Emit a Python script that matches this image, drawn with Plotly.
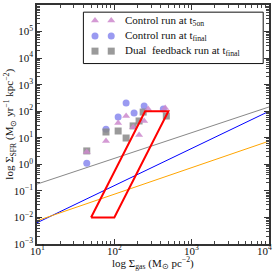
import numpy as np
import plotly.graph_objects as go

# Data
ctrl_on_gas = [44, 78, 112, 142, 175, 209, 243, 274, 455]
ctrl_on_sfr = [2.9, 7.6, 36, 66, 25, 12.7, 43, 120, 132]

ctrl_fin_gas = [44, 78, 112, 142, 180, 243, 430]
ctrl_fin_sfr = [1.1, 21, 60, 204, 85, 157, 120]

dual_fin_gas = [44, 78, 112, 142, 175, 209, 236, 470]
dual_fin_sfr = [3.2, 16.5, 18, 9.8, 28, 43, 93, 66]

box_gas = [50, 100, 500, 250, 50]
box_sfr = [0.01, 0.01, 100, 100, 0.01]

line_gas = [10, 10000]
gray_sfr = [0.18, 145]
blue_sfr = [0.0063, 99.5]
orange_sfr = [0.0075, 7.5]

legend_labels = ["Control run at t<sub>5on</sub>",
                 "Control run at t<sub>final</sub>",
                 "Dual  feedback run at t<sub>final</sub>"]

x_tickvals = [10, 100, 1000, 10000]
x_ticktext = ["10<sup>1</sup>", "10<sup>2</sup>", "10<sup>3</sup>", "10<sup>4</sup>"]
y_tickvals = [1e-3, 1e-2, 1e-1, 1, 10, 100, 1e3, 1e4, 1e5, 1e6]
y_ticktext = ["10<sup>−3</sup>", "10<sup>−2</sup>", "10<sup>−1</sup>", "10<sup>0</sup>",
              "10<sup>1</sup>", "10<sup>2</sup>", "10<sup>3</sup>", "10<sup>4</sup>",
              "10<sup>5</sup>", "10<sup>6</sup>"]

FONT = "Liberation Serif"
C_TRI = "#cc88cc"
C_CIR = "#8888ee"
C_SQ = "#888888"

fig = go.Figure()

fig.add_trace(go.Scatter(x=line_gas, y=gray_sfr, mode="lines",
                         line=dict(color="#888888", width=1), showlegend=False))
fig.add_trace(go.Scatter(x=line_gas, y=blue_sfr, mode="lines",
                         line=dict(color="#0000ff", width=1), showlegend=False))
fig.add_trace(go.Scatter(x=line_gas, y=orange_sfr, mode="lines",
                         line=dict(color="#ffa500", width=1), showlegend=False))

fig.add_trace(go.Scatter(x=ctrl_fin_gas, y=ctrl_fin_sfr, mode="markers",
                         marker=dict(symbol="circle", size=7, color=C_CIR, opacity=0.85),
                         showlegend=False))
fig.add_trace(go.Scatter(x=dual_fin_gas, y=dual_fin_sfr, mode="markers",
                         marker=dict(symbol="square", size=7, color=C_SQ, opacity=0.85),
                         showlegend=False))
fig.add_trace(go.Scatter(x=ctrl_on_gas, y=ctrl_on_sfr, mode="markers",
                         marker=dict(symbol="triangle-up", size=7, color=C_TRI, opacity=0.85),
                         showlegend=False))

fig.add_trace(go.Scatter(x=box_gas, y=box_sfr, mode="lines",
                         line=dict(color="#ff0000", width=2), showlegend=False))

# Manual legend (two markers per entry) on an overlay axis in [0,1]
leg_y = [0.935, 0.87, 0.807]
leg_sym = ["triangle-up", "circle", "square"]
leg_col = [C_TRI, C_CIR, C_SQ]
for yy, sym, col in zip(leg_y, leg_sym, leg_col):
    fig.add_trace(go.Scatter(x=[0.25, 0.32], y=[yy, yy], mode="markers",
                             marker=dict(symbol=sym, size=7, color=col, opacity=0.85),
                             xaxis="x2", yaxis="y2", showlegend=False))
for yy, lab in zip(leg_y, legend_labels):
    fig.add_annotation(x=0.37, y=yy, xref="x2", yref="y2", text=lab,
                       showarrow=False, xanchor="left", yanchor="middle",
                       font=dict(family=FONT, size=11, color="#111"))
fig.add_shape(type="rect", xref="x2", yref="y2", x0=0.2, x1=0.975, y0=0.755, y1=0.97,
              line=dict(color="#111", width=1), fillcolor="white", layer="below")

# x tick labels as annotations (tighter to the axis)
for i, (tv, tt) in enumerate(zip(x_tickvals, x_ticktext)):
    fig.add_annotation(x=np.log10(tv), y=-0.027, xref="x", yref="paper", yanchor="middle",
                       text=tt, showarrow=False,
                       xshift=(-5 if i == len(x_tickvals) - 1 else 0),
                       font=dict(family=FONT, size=11, color="#111"))

# Axis titles as annotations
fig.add_annotation(x=0.5, y=-0.08, xref="paper", yref="paper", yanchor="middle",
                   text="log Σ<sub>gas</sub> (M<sub>⊙</sub> pc<sup>−2</sup>)", showarrow=False,
                   font=dict(family=FONT, size=11, color="#111"))
fig.add_annotation(x=-0.12, y=0.5, xref="paper", yref="paper", xanchor="center",
                   textangle=-90,
                   text="log Σ<sub>SFR</sub> (M<sub>⊙</sub> yr<sup>−1</sup> kpc<sup>−2</sup>)",
                   showarrow=False, font=dict(family=FONT, size=11, color="#111"))

axis_common = dict(showgrid=False, zeroline=False, ticks="inside", mirror="allticks",
                   showline=True, linecolor="#333", linewidth=1.5, ticklen=5,
                   tickcolor="#333", automargin=False,
                   tickfont=dict(family=FONT, size=11, color="#111"),
                   minor=dict(ticks="inside", ticklen=3, tickcolor="#444", dtick="D1"))

fig.update_layout(
    width=275, height=271,
    margin=dict(l=37, r=6, t=5, b=27),
    paper_bgcolor="white", plot_bgcolor="white",
    xaxis=dict(type="log", range=[1, 4], tickvals=x_tickvals, showticklabels=False,
               **axis_common),
    yaxis=dict(type="log", range=[-3, 6], tickvals=y_tickvals, ticktext=y_ticktext,
               **axis_common),
    xaxis2=dict(overlaying="x", range=[0, 1], visible=False, fixedrange=True),
    yaxis2=dict(overlaying="y", range=[0, 1], visible=False, fixedrange=True),
    showlegend=False,
)

fig.write_html("out.html", config={"displayModeBar": False},
               post_script="document.body.style.margin='0';document.body.style.overflow='hidden';")
